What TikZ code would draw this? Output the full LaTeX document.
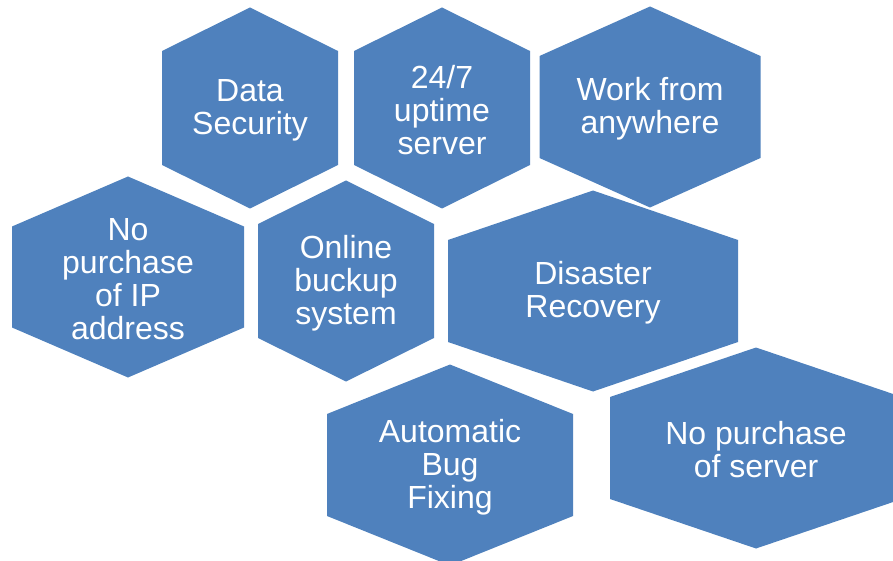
\documentclass[tikz,border=0pt]{standalone}
\usepackage{fontspec}
\setmainfont{Liberation Sans}
\definecolor{hexblue}{RGB}{79,129,189}
\tikzset{
  hexa/.style    = {fill=hexblue, draw=none},
  hextext/.style = {text=white, align=center, inner sep=0pt, yshift=-2pt,
                    font=\fontsize{32}{33}\selectfont}
}

\begin{document}
\begin{tikzpicture}[x=1pt,y=-1pt]
\clip (0,0) rectangle (893,561);
\foreach \nm/\cx/\cy/\hw/\sh/\txt in {
    sec/250/108/88/57/{Data\\Security},
    upt/442/108/88/57/{24/7\\uptime\\server},
    work/650/107/110.5/51/{Work from\\anywhere},
    ip/128/277/116/50.5/{No\\purchase\\of IP\\address},
    bkp/346/281/88/57/{Online\\buckup\\system},
    dis/593/291/145/51/{Disaster\\Recovery},
    bug/450/465/123/51/{Automatic\\Bug\\Fixing},
    srv/756/448/146/51/{No purchase\\of server}}{
  \fill[hexa] (\cx,\cy-100.5) -- (\cx+\hw,\cy-\sh) -- (\cx+\hw,\cy+\sh)
    -- (\cx,\cy+100.5) -- (\cx-\hw,\cy+\sh) -- (\cx-\hw,\cy-\sh) -- cycle;
  \node[hextext] (\nm) at (\cx,\cy) {\txt};
}
\end{tikzpicture}
\end{document}
